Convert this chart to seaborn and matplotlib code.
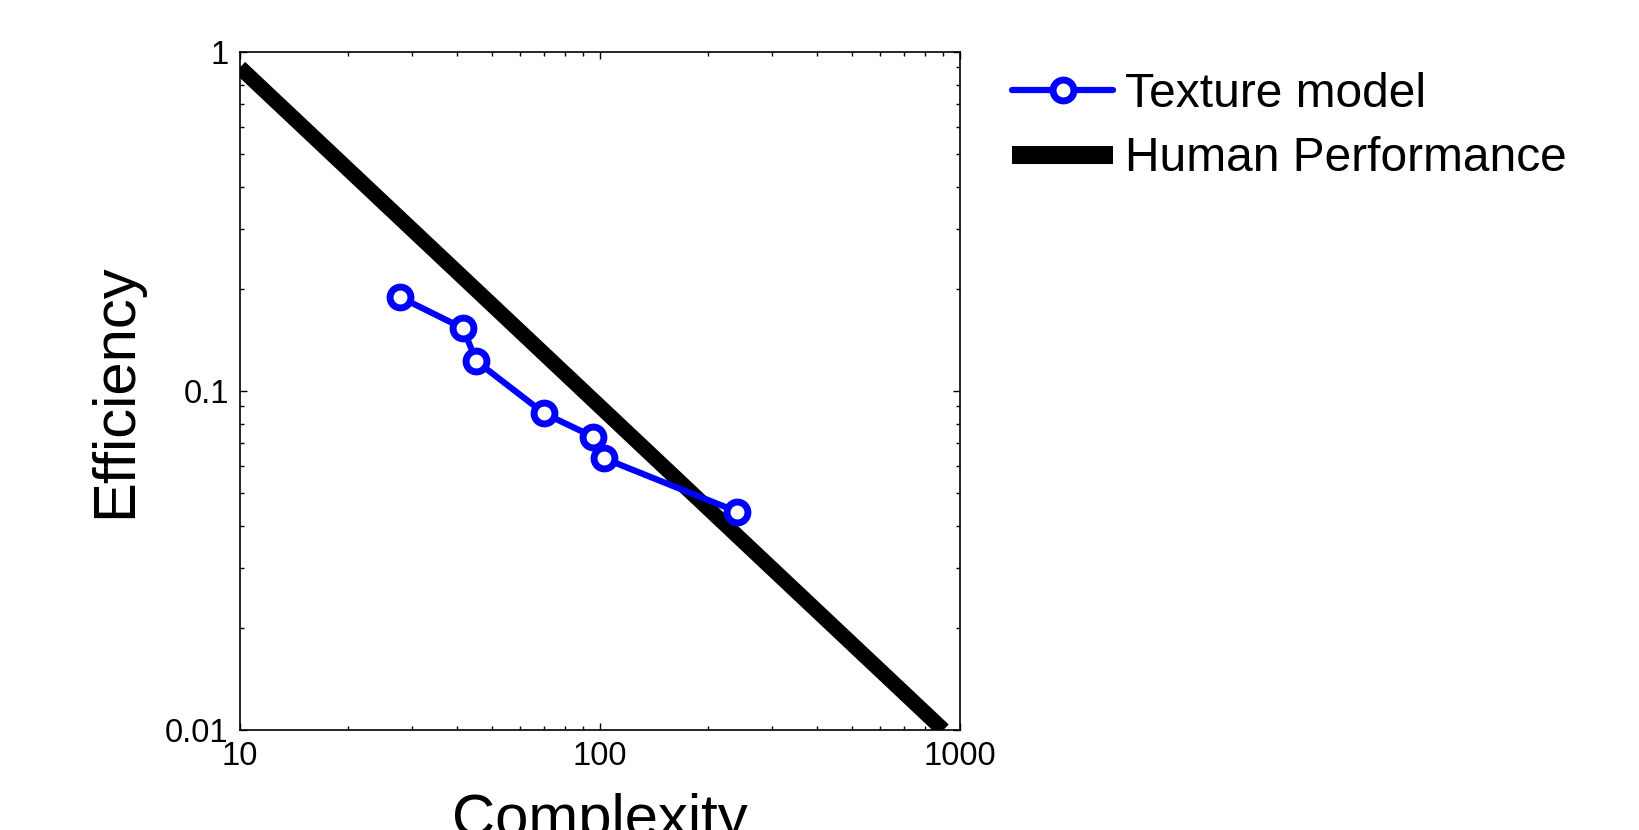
"""
Efficiency vs complexity on log-log axes: texture model against human performance.
"""
import matplotlib
matplotlib.use('Agg')
import matplotlib.pyplot as plt
import matplotlib.ticker as mticker
import seaborn as sns
import pandas as pd

# texture model points
model_complexity = [27.9, 41.7, 45.3, 70.0, 95.7, 102.6, 239.8]
model_efficiency = [0.189, 0.153, 0.1226, 0.0859, 0.0733, 0.0633, 0.0441]

# human performance line (two end points)
human_complexity = [10, 900]
human_efficiency = [0.9, 0.01]

x_ticks = [10, 100, 1000]
x_tick_labels = ['10', '100', '1000']
y_ticks = [0.01, 0.1, 1]
y_tick_labels = ['0.01', '0.1', '1']


def main() -> None:
    sns.set_style("ticks")
    plt.rcParams['font.family'] = ['Liberation Sans', 'DejaVu Sans']
    plt.rcParams['text.color'] = 'black'
    plt.rcParams['axes.labelcolor'] = 'black'

    model_df = pd.DataFrame({'Complexity': model_complexity, 'Efficiency': model_efficiency})
    human_df = pd.DataFrame({'Complexity': human_complexity, 'Efficiency': human_efficiency})

    fig = plt.figure(figsize=(16.4, 8.3), dpi=100)
    ax = fig.add_axes([0.1463, 0.1205, 0.439, 0.8169])

    sns.lineplot(data=model_df, x='Complexity', y='Efficiency', ax=ax, sort=False,
                 estimator=None, color='#0000ff', linewidth=4.5, marker='o',
                 markersize=15, markeredgewidth=5, markerfacecolor='white',
                 markeredgecolor='#0000ff', label='Texture model', legend=False,
                 zorder=3)
    sns.lineplot(data=human_df, x='Complexity', y='Efficiency', ax=ax, sort=False,
                 estimator=None, color='black', linewidth=11, label='Human Performance',
                 legend=False, solid_capstyle='butt', zorder=2)

    ax.set_xscale('log')
    ax.set_yscale('log')
    ax.set_xlim(10, 1000)
    ax.set_ylim(0.01, 1)
    ax.xaxis.set_major_locator(mticker.FixedLocator(x_ticks))
    ax.xaxis.set_major_formatter(mticker.FixedFormatter(x_tick_labels))
    ax.yaxis.set_major_locator(mticker.FixedLocator(y_ticks))
    ax.yaxis.set_major_formatter(mticker.FixedFormatter(y_tick_labels))
    ax.xaxis.set_minor_locator(mticker.LogLocator(base=10, subs=range(2, 10)))
    ax.yaxis.set_minor_locator(mticker.LogLocator(base=10, subs=range(2, 10)))
    ax.xaxis.set_minor_formatter(mticker.NullFormatter())
    ax.yaxis.set_minor_formatter(mticker.NullFormatter())

    ax.tick_params(which='both', direction='in', top=True, right=True, width=1,
                   colors='black', labelcolor='black')
    ax.tick_params(which='major', length=5, labelsize=23.5, pad=8)
    ax.tick_params(which='minor', length=3)
    for spine in ax.spines.values():
        spine.set_linewidth(1.2)
        spine.set_color('black')

    ax.set_xlabel('Complexity', fontsize=43, labelpad=15)
    ax.set_ylabel('Efficiency', fontsize=43, labelpad=16)

    handles, labels = ax.get_legend_handles_labels()
    leg = fig.legend(handles, labels, loc='upper left', bbox_to_anchor=(0.617, 0.913),
                     frameon=False, fontsize=34.5, handlelength=2.12, handletextpad=0.25,
                     labelspacing=0.4, borderpad=0, borderaxespad=0)
    leg.get_lines()[1].set_linewidth(13)

    fig.savefig('out.png', dpi=100)


if __name__ == '__main__':
    main()
